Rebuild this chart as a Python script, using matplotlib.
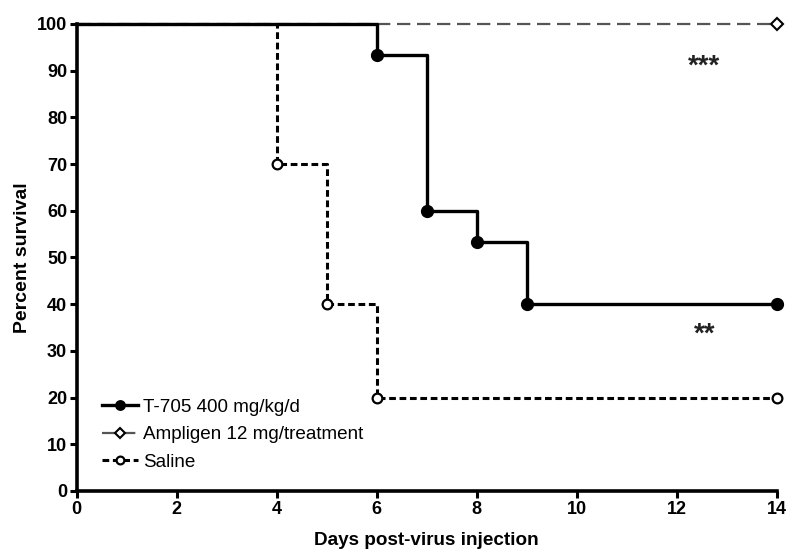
import matplotlib
matplotlib.use("Agg")
import matplotlib.pyplot as plt

plt.rcParams["font.family"] = ["Liberation Sans", "DejaVu Sans"]

# Kaplan-Meier step data
t705_days = [0, 6, 7, 8, 9, 14]
t705_surv = [100, 93.3, 60, 53.3, 40, 40]
amp_days = [0, 14]
amp_surv = [100, 100]
saline_days = [0, 4, 5, 6, 14]
saline_surv = [100, 70, 40, 20, 20]

labels = ["T-705 400 mg/kg/d", "Ampligen 12 mg/treatment", "Saline"]
x_ticks = [0, 2, 4, 6, 8, 10, 12, 14]
y_ticks = [0, 10, 20, 30, 40, 50, 60, 70, 80, 90, 100]

fig = plt.figure(figsize=(8, 5.56), dpi=100)
ax = fig.add_axes([0.096, 0.117, 0.875, 0.84])

ax.step(amp_days, amp_surv, where="post", color="#555555", lw=1.6,
        dashes=(6, 3), marker="D", ms=6, mfc="white", mec="black", mew=1.5,
        markevery=list(range(1, len(amp_days))), label=labels[1], zorder=2)
ax.step(saline_days, saline_surv, where="post", color="black", lw=2.2,
        dashes=(2.2, 1.2), marker="o", ms=7, mfc="white", mec="black",
        mew=1.6, markevery=list(range(1, len(saline_days))),
        label=labels[2], zorder=3)
ax.step(t705_days, t705_surv, where="post", color="black", lw=2.4,
        marker="o", ms=8.5, mfc="black", mec="black",
        markevery=list(range(1, len(t705_days))), label=labels[0], zorder=4)

ax.text(12.55, 90.8, "***", ha="center", va="center", fontsize=20,
        fontweight="bold", color="#222222")
ax.text(12.55, 33.5, "**", ha="center", va="center", fontsize=20,
        fontweight="bold", color="#222222")

ax.set_xlim(0, 14)
ax.set_ylim(0, 100)
ax.set_xticks(x_ticks)
ax.set_yticks(y_ticks)
for lbl in ax.get_xticklabels() + ax.get_yticklabels():
    lbl.set_fontweight("bold")
ax.tick_params(direction="out", width=2.2, length=5, labelsize=13, pad=2)
ax.spines["top"].set_visible(False)
ax.spines["right"].set_visible(False)
ax.spines["left"].set_linewidth(2.6)
ax.spines["bottom"].set_linewidth(2.6)
for line in ax.get_lines():
    line.set_clip_on(False)

ax.set_xlabel("Days post-virus injection", fontsize=13.6, fontweight="bold",
              labelpad=10)
ax.set_ylabel("Percent survival", fontsize=14, fontweight="bold",
              labelpad=4)

handles, lbls = ax.get_legend_handles_labels()
order = [2, 0, 1]
ax.legend([handles[i] for i in order], [lbls[i] for i in order],
          loc="lower left", bbox_to_anchor=(0.025, 0.027), frameon=False,
          fontsize=13.6, handlelength=1.9, handletextpad=0.3,
          labelspacing=0.55, borderaxespad=0, markerscale=0.8)

fig.savefig("out.png", dpi=100, facecolor="white")
